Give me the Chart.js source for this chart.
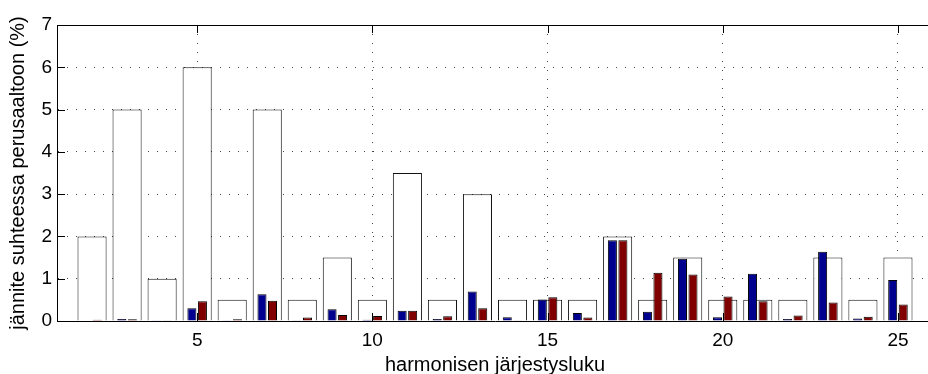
<!DOCTYPE html>
<html>
<head>
<meta charset="utf-8">
<script src="https://cdn.jsdelivr.net/npm/chart.js@4"></script>
<style>
  html, body { margin: 0; padding: 0; background: #fff; overflow: hidden; }
  #wrap { width: 960px; height: 374px; }
</style>
</head>
<body>
<div id="wrap"><canvas id="harmChart" width="960" height="374"></canvas></div>
<script>
// Harmonic voltages relative to the fundamental, orders 2..25
const harmonics = [2, 3, 4, 5, 6, 7, 8, 9, 10, 11, 12, 13, 14, 15, 16, 17, 18, 19, 20, 21, 22, 23, 24, 25];
const limits    = [2, 5, 1, 6, 0.5, 5, 0.5, 1.5, 0.5, 3.5, 0.5, 3, 0.5, 0.5, 0.5, 2, 0.5, 1.5, 0.5, 0.5, 0.5, 1.5, 0.5, 1.5];
const measuredA = [0.01, 0.05, 0.02, 0.30, 0.02, 0.63, 0.02, 0.28, 0.03, 0.24, 0.05, 0.70, 0.09, 0.51, 0.19, 1.91, 0.22, 1.47, 0.09, 1.12, 0.05, 1.64, 0.06, 0.97];
const measuredB = [0.03, 0.04, 0.02, 0.47, 0.04, 0.48, 0.08, 0.14, 0.12, 0.24, 0.11, 0.30, 0.02, 0.56, 0.08, 1.91, 1.14, 1.10, 0.58, 0.47, 0.13, 0.44, 0.10, 0.39];
const xTicks = [5, 10, 15, 20, 25];
const yTicks = [0, 1, 2, 3, 4, 5, 6, 7];

const FONT = 'Liberation Sans, Arial, Helvetica, sans-serif';

function points(values) {
  return harmonics.map((h, i) => ({ x: h, y: values[i] }));
}

// box on top plus inward tick marks, matlab style
const axesBox = {
  id: 'axesBox',
  afterDraw(chart) {
    const { ctx, chartArea: a, scales } = chart;
    const len = 8;
    ctx.save();
    ctx.strokeStyle = '#000';
    ctx.lineWidth = 1;
    ctx.beginPath();
    ctx.moveTo(a.left, Math.round(a.top) + 0.5);
    ctx.lineTo(a.right, Math.round(a.top) + 0.5);
    xTicks.forEach(v => {
      const x = Math.round(scales.x.getPixelForValue(v)) + 0.5;
      ctx.moveTo(x, a.bottom);
      ctx.lineTo(x, a.bottom - len);
      ctx.moveTo(x, a.top);
      ctx.lineTo(x, a.top + len);
    });
    yTicks.forEach(v => {
      const y = Math.round(scales.y.getPixelForValue(v)) + 0.5;
      ctx.moveTo(a.left, y);
      ctx.lineTo(a.left + len, y);
    });
    ctx.stroke();
    ctx.restore();
  }
};

new Chart(document.getElementById('harmChart'), {
  type: 'bar',
  data: {
    datasets: [
      {
        label: 'raja',
        data: points(limits),
        backgroundColor: '#fff',
        borderColor: '#111',
        borderWidth: 1,
        grouped: false,
        categoryPercentage: 1,
        barPercentage: 0.83,
        order: 2
      },
      {
        label: 'A',
        data: points(measuredA),
        backgroundColor: '#00008f',
        borderColor: '#000',
        borderWidth: 1,
        categoryPercentage: 0.6,
        barPercentage: 0.86,
        order: 1
      },
      {
        label: 'B',
        data: points(measuredB),
        backgroundColor: '#800000',
        borderColor: '#000',
        borderWidth: 1,
        categoryPercentage: 0.6,
        barPercentage: 0.86,
        order: 1
      }
    ]
  },
  options: {
    responsive: false,
    animation: false,
    layout: { padding: { top: 25, right: 27, left: 0, bottom: 0 } },
    plugins: { legend: { display: false }, tooltip: { enabled: false } },
    scales: {
      x: {
        type: 'linear',
        min: 1,
        max: 26,
        offset: false,
        afterFit: s => { s.height = 53; },
        afterBuildTicks: s => { s.ticks = xTicks.map(v => ({ value: v })); },
        grid: { color: '#444', lineWidth: 1, drawTicks: false, offset: false },
        border: { display: true, color: '#000', width: 1, dash: [1, 8] },
        ticks: { color: '#000', padding: 8, font: { family: FONT, size: 19 } },
        title: {
          display: true,
          text: 'harmonisen järjestysluku',
          color: '#000',
          padding: { top: 0, bottom: -3 },
          font: { family: FONT, size: 20 }
        }
      },
      y: {
        min: 0,
        max: 7,
        afterFit: s => { s.width = 57; },
        afterBuildTicks: s => { s.ticks = yTicks.map(v => ({ value: v })); },
        grid: { color: '#444', lineWidth: 1, drawTicks: false, offset: false },
        border: { display: true, color: '#000', width: 1, dash: [1, 8] },
        ticks: { color: '#000', padding: 5, font: { family: FONT, size: 19 } },
        title: {
          display: true,
          text: 'jännite suhteessa perusaaltoon (%)',
          color: '#000',
          padding: { top: 6, bottom: 0 },
          font: { family: FONT, size: 20 }
        }
      }
    }
  },
  plugins: [axesBox]
});
</script>
</body>
</html>
